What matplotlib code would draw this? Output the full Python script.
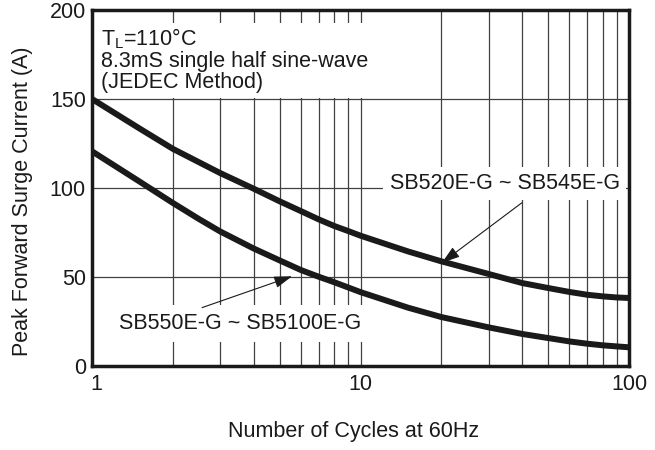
import matplotlib
matplotlib.use("Agg")
import matplotlib.pyplot as plt
from matplotlib.patches import Rectangle
from matplotlib.ticker import FixedLocator, NullFormatter
from matplotlib.transforms import ScaledTranslation

plt.rcParams['font.family'] = ['Liberation Sans', 'DejaVu Sans']
plt.rcParams['mathtext.fontset'] = 'custom'
plt.rcParams['mathtext.rm'] = 'Liberation Sans'

# Data
cycles = [1, 1.5, 2, 2.5, 3, 4, 5, 6, 7, 8, 9, 10, 15, 20, 30, 40, 50, 60, 70, 80, 90, 100]
sb520_545 = [150, 133.5, 122, 114.5, 108.4, 99.6, 92.5, 87, 82.3, 78.6, 75.8, 73.2,
             64.4, 58.8, 51.7, 46.6, 43.8, 41.6, 40, 39.1, 38.5, 38.2]
sb550_5100 = [120.6, 103.7, 91.6, 82.6, 75.6, 66, 59.3, 53.9, 50.1, 47.0, 44.1, 41.5,
              32.8, 27.5, 21.7, 18, 15.7, 13.8, 12.5, 11.6, 11, 10.5]

x_major = [1, 10, 100]
x_major_labels = ['1', '10', '100']
y_ticks = [0, 50, 100, 150, 200]

label_upper = 'SB520E-G ~ SB545E-G'
label_lower = 'SB550E-G ~ SB5100E-G'
conditions = 'T$_{\\mathregular{L}}$=110°C\n8.3mS single half sine-wave\n(JEDEC Method)'

FS = 15.5
INK = '#1a1a1a'

fig = plt.figure(figsize=(6.55, 4.5), dpi=100)
ax = fig.add_axes([0.1405, 0.1867, 0.8198, 0.7911])

ax.set_xscale('log')
ax.set_xlim(1, 100)
ax.set_ylim(0, 200)

minor = [m * d for d in (1, 10) for m in range(2, 10)]
ax.xaxis.set_major_locator(FixedLocator(x_major))
ax.xaxis.set_minor_locator(FixedLocator(minor))
ax.xaxis.set_minor_formatter(NullFormatter())
ax.set_xticklabels(x_major_labels)
ax.set_yticks(y_ticks)

ax.grid(True, which='both', axis='x', color='#404040', linewidth=0.9, zorder=1)
ax.grid(True, which='major', axis='y', color='#404040', linewidth=0.9, zorder=1)
ax.set_axisbelow(True)
ax.tick_params(which='both', length=0, labelsize=FS, colors=INK)
ax.tick_params(axis='x', pad=6)
ax.tick_params(axis='y', pad=4.5)

# nudge the "1" label to the right as in the original
first = ax.get_xticklabels()[0]
first.set_transform(first.get_transform() + ScaledTranslation(4.5 / 100, 0, fig.dpi_scale_trans))

for s in ax.spines.values():
    s.set_linewidth(2.5)
    s.set_color(INK)

# white box behind the conditions text
ax.add_patch(Rectangle((0, 0.753), 0.644, 0.2105, transform=ax.transAxes,
                       facecolor='white', edgecolor='none', zorder=2))
ax.text(0.016, 0.955, conditions,
        transform=ax.transAxes, fontsize=FS, va='top', ha='left',
        linespacing=1.02, color=INK, zorder=3)

ax.plot(cycles, sb520_545, color=INK, linewidth=4.3, zorder=4,
        solid_joinstyle='round', solid_capstyle='butt')
ax.plot(cycles, sb550_5100, color=INK, linewidth=4.3, zorder=4,
        solid_joinstyle='round', solid_capstyle='butt')

ax.text(34.5, 102.5, label_upper, ha='center', va='center', fontsize=FS, color=INK,
        bbox=dict(boxstyle='square,pad=0.3', fc='white', ec='none'), zorder=5)
ax.text(3.56, 24, label_lower, ha='center', va='center', fontsize=FS, color=INK,
        bbox=dict(boxstyle='square,pad=0.37', fc='white', ec='none'), zorder=5)

arrow = dict(arrowstyle='-|>,head_length=0.55,head_width=0.18', color=INK, lw=0.8,
             mutation_scale=20, shrinkA=0, shrinkB=0)
ax.annotate('', xy=(20.1, 58.0), xytext=(39.9, 91.7), arrowprops=arrow, zorder=6)
ax.annotate('', xy=(5.56, 50.4), xytext=(2.57, 32.8), arrowprops=arrow, zorder=6)

ax.set_xlabel('Number of Cycles at 60Hz', fontsize=FS, color=INK)
ax.xaxis.set_label_coords(0.487, -0.155)
ax.set_ylabel('Peak Forward Surge Current (A)', fontsize=FS, color=INK)
ax.yaxis.set_label_coords(-0.110, 0.4635)

fig.savefig('out.png', dpi=100)
